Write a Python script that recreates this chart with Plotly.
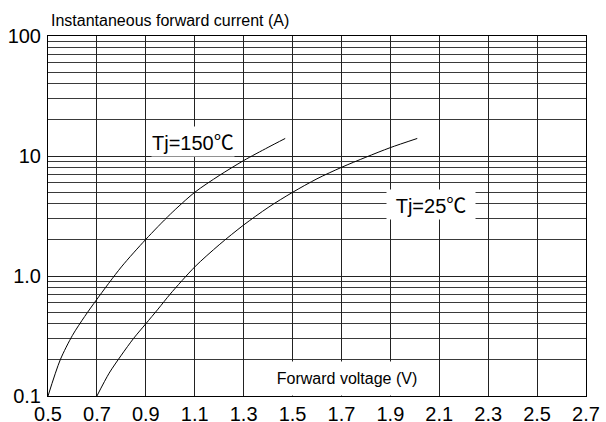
import plotly.graph_objects as go

# Data
v_150 = [0.5, 0.55, 0.6, 0.65, 0.7, 0.8, 0.9, 1.0, 1.1, 1.2, 1.3, 1.4, 1.47]
i_150 = [0.1, 0.2, 0.32, 0.46, 0.64, 1.19, 2.02, 3.27, 4.98, 6.87, 9.16, 11.8, 14.0]

v_25 = [0.7, 0.75, 0.8, 0.85, 0.9, 0.95, 1.0, 1.1, 1.2, 1.3, 1.4, 1.5, 1.6, 1.7, 1.8, 1.9, 2.01]
i_25 = [0.1, 0.155, 0.219, 0.302, 0.40, 0.53, 0.708, 1.19, 1.82, 2.66, 3.72, 4.98, 6.46, 8.04, 9.77, 11.75, 14.0]

x_ticks = [0.5, 0.7, 0.9, 1.1, 1.3, 1.5, 1.7, 1.9, 2.1, 2.3, 2.5, 2.7]
x_tick_labels = ["0.5", "0.7", "0.9", "1.1", "1.3", "1.5", "1.7", "1.9", "2.1", "2.3", "2.5", "2.7"]
y_ticks = [0.1, 1, 10, 100]
y_tick_labels = ["0.1", "1.0", "10", "100"]
y_minor = [m * d for d in (0.1, 1, 10) for m in range(2, 10)]

FONT = "Liberation Sans, Arial, sans-serif"
DEG = '<span style="font-family:\'Noto Sans CJK SC\'">℃</span>'

fig = go.Figure()
for xs, ys in ((v_150, i_150), (v_25, i_25)):
    fig.add_trace(go.Scatter(x=xs, y=ys, mode="lines",
                             line=dict(color="black", width=1, shape="spline", smoothing=0.8),
                             showlegend=False, hoverinfo="skip"))

fig.update_layout(
    width=606, height=422,
    margin=dict(l=48, r=20, t=36, b=26),
    paper_bgcolor="white", plot_bgcolor="white",
    font=dict(family=FONT, color="black", size=20),
    xaxis=dict(range=[0.5, 2.7], tickvals=x_ticks, ticktext=x_tick_labels,
               showgrid=True, gridcolor="#222", gridwidth=1,
               showline=True, linecolor="black", linewidth=1, mirror=True,
               ticks="", zeroline=False, tickfont=dict(size=20), automargin=False),
    yaxis=dict(type="log", range=[-1, 2], tickvals=y_ticks, ticktext=y_tick_labels,
               showgrid=True, gridcolor="#222", gridwidth=1,
               minor=dict(tickvals=y_minor, showgrid=True, gridcolor="#3a3a3a", gridwidth=1, ticks=""),
               showline=True, linecolor="black", linewidth=1, mirror=True,
               ticks="", zeroline=False, tickfont=dict(size=20), automargin=False,
               ticklabelstandoff=2),
    annotations=[
        dict(text="Instantaneous forward current (A)", xref="paper", yref="paper",
             x=0.002, y=1.0417, xanchor="left", yanchor="middle", showarrow=False,
             font=dict(size=16)),
        dict(text="Forward voltage (V)", xref="paper", yref="paper",
             x=0.5558, y=0.05, xanchor="center", yanchor="middle", showarrow=False,
             font=dict(size=16), bgcolor="white", width=170, height=33, borderpad=0),
        dict(text="Tj=150" + DEG, xref="paper", yref="paper",
             x=0.2686, y=0.7056, xanchor="center", yanchor="middle", showarrow=False,
             font=dict(size=20), bgcolor="white", borderpad=0),
        dict(text="Tj=25" + DEG, xref="paper", yref="paper",
             x=0.711, y=0.5306, xanchor="center", yanchor="middle", showarrow=False,
             font=dict(size=20), bgcolor="white", borderpad=0, width=88),
    ],
)

# remove the default 8px page margin so the figure fills the window exactly
fig.write_html("out.html", config={"displayModeBar": False},
               post_script="document.body.style.margin='0';document.body.style.overflow='hidden';")
